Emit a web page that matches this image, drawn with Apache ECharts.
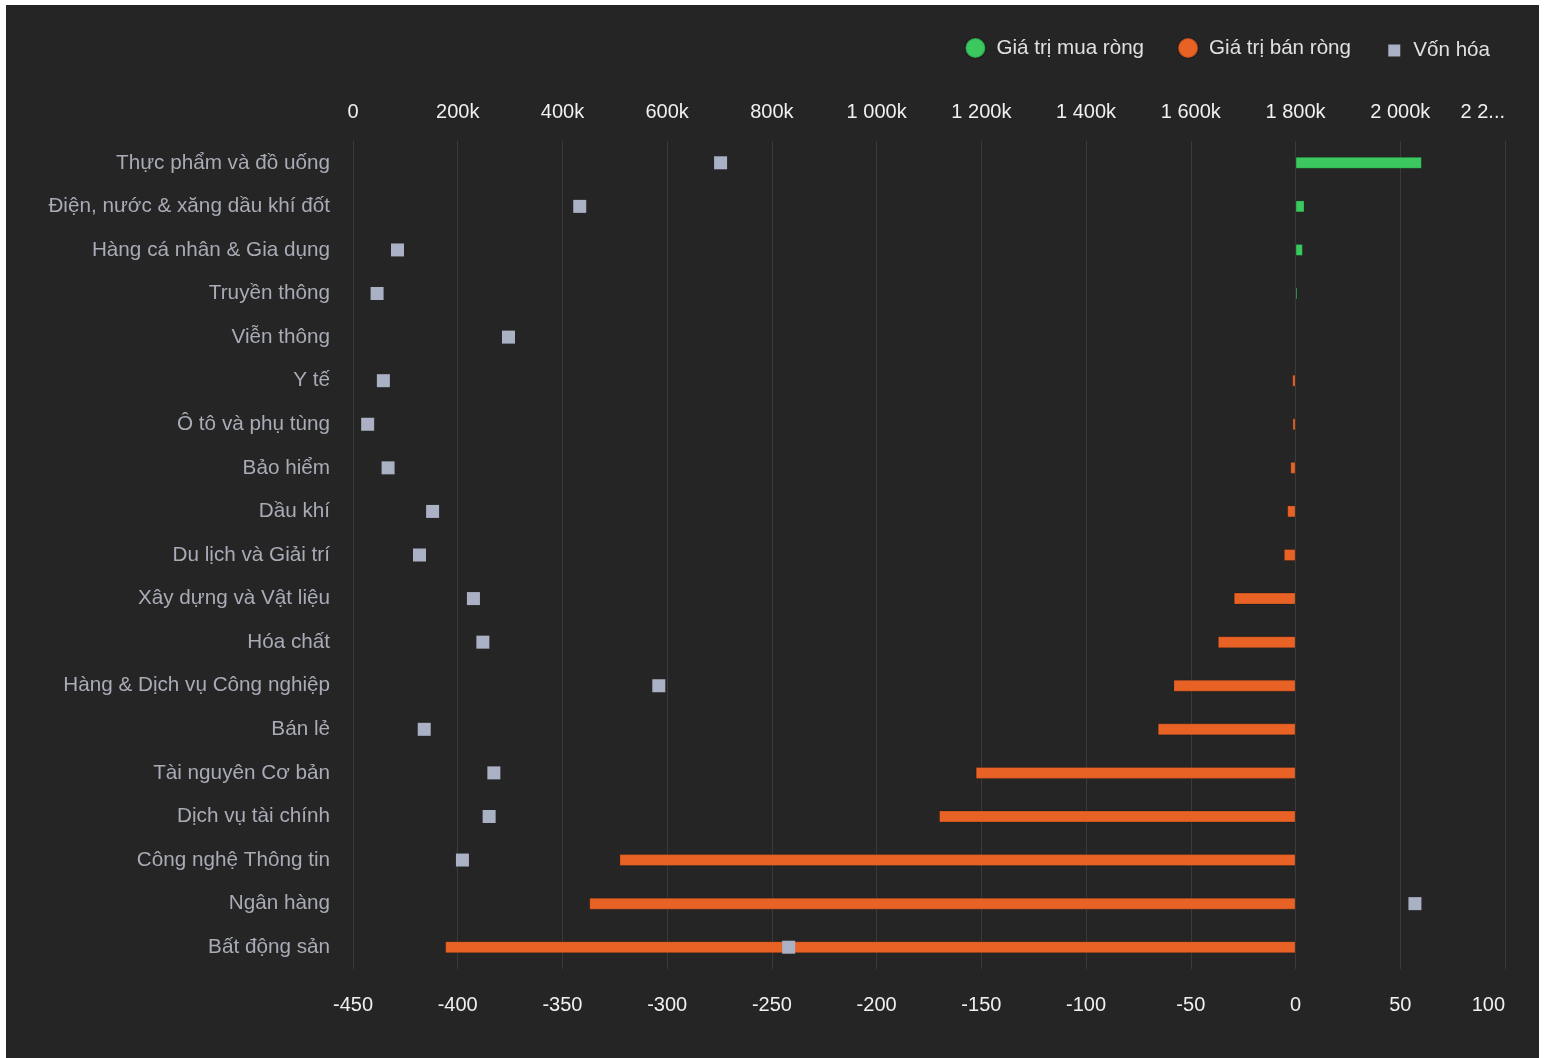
<!DOCTYPE html>
<html>
<head>
<meta charset="utf-8">
<script src="https://cdn.jsdelivr.net/npm/echarts@6/dist/echarts.min.js"></script>
<style>
  html, body { margin: 0; padding: 0; background: #ffffff; }
  #chart { position: absolute; left: 6px; top: 5px; width: 1533px; height: 1053px; background: #252525; }
</style>
</head>
<body>
<div id="chart"></div>
<script>
const categories = ['Thực phẩm và đồ uống', 'Điện, nước & xăng dầu khí đốt', 'Hàng cá nhân & Gia dụng', 'Truyền thông', 'Viễn thông', 'Y tế', 'Ô tô và phụ tùng', 'Bảo hiểm', 'Dầu khí', 'Du lịch và Giải trí', 'Xây dựng và Vật liệu', 'Hóa chất', 'Hàng & Dịch vụ Công nghiệp', 'Bán lẻ', 'Tài nguyên Cơ bản', 'Dịch vụ tài chính', 'Công nghệ Thông tin', 'Ngân hàng', 'Bất động sản'];
const netValues = [60.3, 4.3, 3.5, 0.9, 0, -1.6, -1.5, -2.5, -4, -5.6, -29.5, -37.1, -58.3, -65.8, -152.7, -170.2, -322.8, -337.2, -406];
const marketCap = [702000, 433000, 85000, 46000, 297000, 58000, 28000, 67000, 152000, 127000, 230000, 248000, 584000, 136000, 269000, 260000, 209000, 2028000, 832000];
const netTicks = { min: -450, max: 100, interval: 50 };
const capTicks = { min: 0, max: 2200000, interval: 200000 };
const seriesNames = ['Giá trị mua ròng', 'Giá trị bán ròng', 'Vốn hóa'];

const buyData = netValues.map(v => v > 0 ? v : '-');
const sellData = netValues.map(v => v < 0 ? v : '-');
const capData = marketCap.map((v, i) => [v, categories[i]]);

function fmtCap(v) {
  if (v === 0) return '0';
  const k = Math.round(v / 1000);
  const s = String(k).replace(/\B(?=(\d{3})+(?!\d))/g, ' ') + 'k';
  if (v >= capTicks.max) return s.slice(0, 3) + '...';
  return s;
}

const FONT = 'Liberation Sans, Arial, sans-serif';
const chart = echarts.init(document.getElementById('chart'));
chart.setOption({
  backgroundColor: '#252525',
  textStyle: { fontFamily: FONT },
  legend: [
    {
      data: [seriesNames[0], seriesNames[1]],
      right: 183, top: 27,
      icon: 'circle', itemWidth: 20, itemHeight: 20, itemGap: 33,
      textStyle: { color: '#e0e0e0', fontSize: 20.6, fontFamily: FONT, padding: [0, 0, 0, 6] }
    },
    {
      data: [seriesNames[2]],
      right: 44, top: 30,
      icon: 'rect', itemWidth: 12, itemHeight: 12,
      textStyle: { color: '#e0e0e0', fontSize: 20.6, fontFamily: FONT, padding: [0, 0, 0, 8] }
    }
  ],
  grid: { left: 347, right: 34, top: 136, bottom: 89, containLabel: false },
  xAxis: [
    {
      type: 'value', position: 'bottom',
      min: netTicks.min, max: netTicks.max, interval: netTicks.interval,
      axisLine: { show: false }, axisTick: { show: false },
      axisLabel: { color: '#f0f0f0', fontSize: 20, fontFamily: FONT, margin: 26, alignMaxLabel: 'right' },
      splitLine: { show: true, lineStyle: { color: '#3a3a3a', width: 1 } }
    },
    {
      type: 'value', position: 'top',
      min: capTicks.min, max: capTicks.max, interval: capTicks.interval,
      axisLine: { show: false }, axisTick: { show: false },
      axisLabel: { color: '#f0f0f0', fontSize: 20, fontFamily: FONT, margin: 19, formatter: fmtCap, alignMaxLabel: 'right' },
      splitLine: { show: false }
    }
  ],
  yAxis: {
    type: 'category', data: categories, inverse: true,
    axisLine: { show: false }, axisTick: { show: false },
    axisLabel: { color: '#a9abb6', fontSize: 20.7, fontFamily: FONT, margin: 23 },
    splitLine: { show: false }
  },
  series: [
    {
      name: seriesNames[0], type: 'bar', stack: 'net', xAxisIndex: 0,
      data: buyData, barWidth: 12,
      itemStyle: { color: '#3bc85f', borderColor: 'rgba(0,0,0,0.2)', borderWidth: 1 }
    },
    {
      name: seriesNames[1], type: 'bar', stack: 'net', xAxisIndex: 0,
      data: sellData, barWidth: 12,
      itemStyle: { color: '#e86226', borderColor: 'rgba(0,0,0,0.2)', borderWidth: 1 }
    },
    {
      name: seriesNames[2], type: 'scatter', xAxisIndex: 1,
      data: capData, symbol: 'rect', symbolSize: 13, z: 5,
      itemStyle: { color: '#aab1c4', opacity: 1 }
    }
  ]
});
</script>
</body>
</html>
